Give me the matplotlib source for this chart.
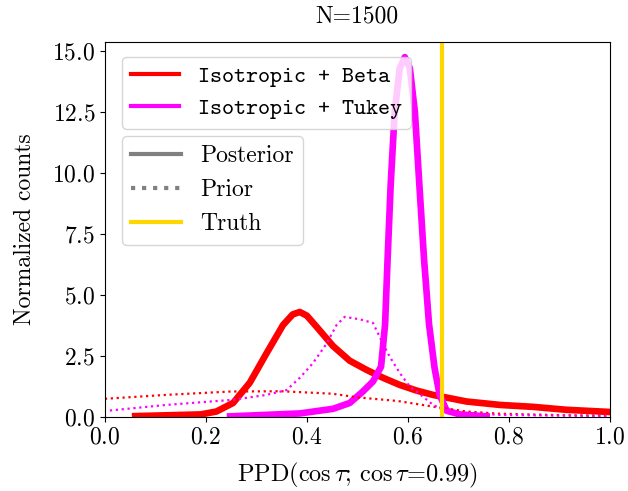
import numpy as np
import matplotlib
matplotlib.use('Agg')
import matplotlib.pyplot as plt
from matplotlib.lines import Line2D

plt.rcParams['font.family'] = 'serif'
plt.rcParams['font.serif'] = ['cmr10']
plt.rcParams['mathtext.fontset'] = 'cm'
plt.rcParams['axes.formatter.use_mathtext'] = True

# posterior, Isotropic + Beta
beta_x = [0.06, 0.19, 0.221, 0.254, 0.287, 0.32, 0.353, 0.372, 0.386, 0.40, 0.419,
          0.452, 0.485, 0.518, 0.551, 0.584, 0.617, 0.65, 0.716, 0.782, 0.848, 0.914, 1.0]
beta_y = [0.03, 0.1, 0.22, 0.57, 1.4, 2.6, 3.77, 4.2, 4.3, 4.15, 3.7,
          2.9, 2.3, 1.93, 1.6, 1.31, 1.08, 0.9, 0.63, 0.49, 0.41, 0.29, 0.2]

# posterior, Isotropic + Tukey
tukey_x = [0.248, 0.386, 0.452, 0.485, 0.511, 0.531, 0.547, 0.555, 0.56, 0.566, 0.574,
           0.584, 0.594, 0.604, 0.614, 0.622, 0.632, 0.642, 0.653, 0.663, 0.677, 0.703, 0.756]
tukey_y = [0.02, 0.14, 0.33, 0.57, 1.04, 1.45, 2.06, 3.8, 6.5, 9.5, 12.5,
           14.3, 14.75, 14.3, 12.5, 9.8, 6.5, 3.8, 2.0, 0.9, 0.25, 0.1, 0.02]

# priors
beta_prior_x = [0.0, 0.12, 0.25, 0.35, 0.45, 0.5, 0.58, 0.65, 0.716, 0.78, 0.9, 1.0]
beta_prior_y = [0.74, 0.9, 1.04, 1.05, 0.95, 0.8, 0.65, 0.42, 0.22, 0.13, 0.07, 0.05]

tukey_prior_x = [0.01, 0.122, 0.254, 0.32, 0.36, 0.386, 0.412, 0.439, 0.459, 0.475, 0.505,
                 0.531, 0.547, 0.564, 0.584, 0.604, 0.63, 0.65, 0.67, 0.716, 0.782, 1.0]
tukey_prior_y = [0.26, 0.49, 0.7, 0.9, 1.1, 1.6, 2.2, 3.0, 3.77, 4.1, 4.0,
                 3.85, 3.16, 2.47, 1.8, 1.24, 0.83, 0.49, 0.29, 0.16, 0.08, 0.03]

truth = 0.667

fig = plt.figure(figsize=(6.28, 4.91), dpi=100)
ax = fig.add_axes([0.167, 0.151, 0.804, 0.764])

ax.plot(beta_x, beta_y, color='red', lw=4.8, solid_joinstyle='round')
ax.plot(tukey_x, tukey_y, color='magenta', lw=4.8, solid_joinstyle='round')
ax.plot(beta_prior_x, beta_prior_y, color='red', lw=1.6, ls=':')
ax.plot(tukey_prior_x, tukey_prior_y, color='magenta', lw=1.6, ls=':')
ax.axvline(truth, color='gold', lw=3)

ax.set_xlim(0, 1)
ax.set_ylim(0, 15.38)
ax.set_yticks([0, 2.5, 5, 7.5, 10, 12.5, 15])
ax.tick_params(labelsize=17)
ax.set_xlabel(r'PPD($\cos\tau$; $\cos\tau$=0.99)', fontsize=17.5, labelpad=9)
ax.set_ylabel('Normalized counts', fontsize=17, labelpad=12)
ax.set_title('N=1500', fontsize=17, pad=14)

h1 = [Line2D([], [], color='red', lw=3), Line2D([], [], color='magenta', lw=3)]
leg1 = ax.legend(h1, ['Isotropic + Beta', 'Isotropic + Tukey'], loc='upper left',
                 bbox_to_anchor=(0.034, 0.96), borderaxespad=0, handlelength=2.1,
                 prop={'family': 'cmtt10', 'size': 16.5})
ax.add_artist(leg1)
h2 = [Line2D([], [], color='gray', lw=3), Line2D([], [], color='gray', lw=3, ls=':'),
      Line2D([], [], color='gold', lw=3)]
ax.legend(h2, ['Posterior', 'Prior', 'Truth'], loc='upper left',
          bbox_to_anchor=(0.034, 0.749), borderaxespad=0, handlelength=2.1,
          prop={'family': 'serif', 'size': 17})

plt.savefig('out.png', dpi=100)
